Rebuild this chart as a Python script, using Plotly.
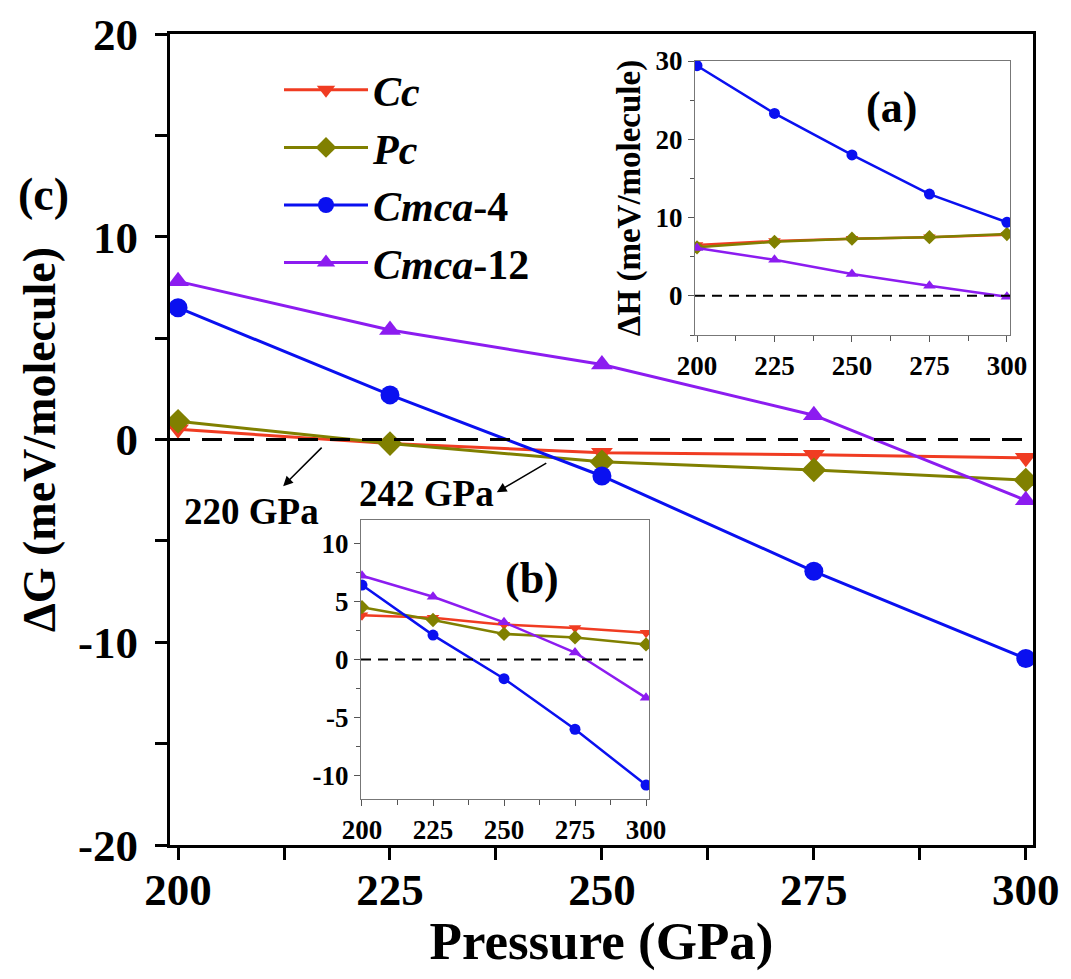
import plotly.graph_objects as go

W, H = 1071, 979
OFF = 8  # page body margin
PW, PH = W - 2 * OFF, H - 2 * OFF
FONT = "Liberation Serif"

pressure = [200, 225, 250, 275, 300]

# Main panel (c): Delta G (meV/molecule)
g_cc = [0.5, -0.2, -0.65, -0.75, -0.9]
g_pc = [0.9, -0.2, -1.1, -1.5, -2.0]
g_cmca4 = [6.5, 2.2, -1.8, -6.5, -10.8]
g_cmca12 = [7.8, 5.4, 3.7, 1.2, -3.0]

# Inset (a): Delta H (meV/molecule)
h_cc = [6.5, 7.0, 7.3, 7.5, 7.8]
h_pc = [6.2, 6.9, 7.3, 7.5, 7.9]
h_cmca4 = [29.4, 23.3, 18.0, 13.0, 9.4]
h_cmca12 = [6.1, 4.6, 2.8, 1.3, -0.1]

# Inset (b)
b_cc = [3.8, 3.6, 3.0, 2.7, 2.3]
b_pc = [4.5, 3.4, 2.2, 1.9, 1.3]
b_cmca4 = [6.4, 2.1, -1.65, -6.0, -10.8]
b_cmca12 = [7.2, 5.4, 3.2, 0.6, -3.3]

names = ["<i>Cc</i>", "<i>Pc</i>", "<i>Cmca</i>-4", "<i>Cmca</i>-12"]
colors = ["#f03c22", "#808000", "#0a10f0", "#8c1cf0"]
symbols = ["triangle-down", "diamond", "circle", "triangle-up"]

tick_x = [200, 225, 250, 275, 300]
main_yvals = [-20, -10, 0, 10, 20]
main_ytext = ["-20", "-10", "0", "10", "20"]
a_yvals = [0, 10, 20, 30]
a_ytext = ["0", "10", "20", "30"]
b_yvals = [-10, -5, 0, 5, 10]
b_ytext = ["-10", "-5", "0", "5", "10"]


def fx(px):
    return (px - OFF) / PW


def fy(py):
    return 1 - (py - OFF) / PH


fig = go.Figure()

main_series = [g_cc, g_pc, g_cmca4, g_cmca12]
a_series = [h_cc, h_pc, h_cmca4, h_cmca12]
b_series = [b_cc, b_pc, b_cmca4, b_cmca12]

for i in range(4):
    fig.add_trace(go.Scatter(
        x=pressure, y=main_series[i], name=names[i], mode="lines+markers",
        line=dict(color=colors[i], width=3),
        marker=dict(symbol=symbols[i], size=19, color=colors[i]),
        xaxis="x", yaxis="y", showlegend=True))
for i in range(4):
    fig.add_trace(go.Scatter(
        x=pressure, y=a_series[i], name=names[i], mode="lines+markers",
        line=dict(color=colors[i], width=2.5),
        marker=dict(symbol=symbols[i], size=11, color=colors[i]),
        xaxis="x2", yaxis="y2", showlegend=False))
for i in range(4):
    fig.add_trace(go.Scatter(
        x=pressure, y=b_series[i], name=names[i], mode="lines+markers",
        line=dict(color=colors[i], width=2.5),
        marker=dict(symbol=symbols[i], size=11, color=colors[i]),
        xaxis="x3", yaxis="y3", showlegend=False))

big_tick = dict(family=FONT, size=45, color="black", weight="bold")
small_tick = dict(family=FONT, size=27, color="black", weight="bold")

main_ax = dict(showline=True, linewidth=3, linecolor="black", mirror=True,
               ticks="outside", ticklen=12, tickwidth=2.5, tickcolor="black",
               showgrid=False, zeroline=False, tickfont=big_tick,
               automargin=False)
inset_ax = dict(showline=True, linewidth=1.2, linecolor="#777777", mirror=True,
                ticks="outside", ticklen=6, tickwidth=1.2, tickcolor="#555555",
                showgrid=False, zeroline=False, tickfont=small_tick,
                automargin=False)

ann_c = dict(xref="paper", yref="paper", showarrow=False,
             xanchor="center", yanchor="middle")

fig.update_layout(
    width=PW, height=PH, autosize=False,
    margin=dict(l=0, r=0, t=0, b=0, pad=0),
    paper_bgcolor="white", plot_bgcolor="white",
    font=dict(family=FONT, color="black"),
    xaxis=dict(**main_ax, domain=[fx(170), fx(1033)], range=[199.05, 300.85],
               anchor="y", tickvals=tick_x, ticklabelstandoff=-9,
               minor=dict(dtick=12.5, tick0=200, ticks="outside", ticklen=12,
                          tickwidth=2.5, tickcolor="black"),
               title=dict(text="Pressure (GPa)", standoff=4,
                          font=dict(family=FONT, size=53, weight="bold"))),
    yaxis=dict(**main_ax, domain=[fy(845), fy(34)], range=[-20, 20],
               anchor="x", tickvals=main_yvals, ticktext=main_ytext,
               ticklabelstandoff=8,
               minor=dict(dtick=5, tick0=0, ticks="outside", ticklen=12,
                          tickwidth=2.5, tickcolor="black"),
               title=dict(text="ΔG (meV/molecule)", standoff=8,
                          font=dict(family=FONT, size=46, weight="bold"))),
    xaxis2=dict(**inset_ax, domain=[fx(695), fx(1010)], range=[199.35, 301.0],
                anchor="y2", tickvals=tick_x,
                minor=dict(dtick=12.5, tick0=200, ticks="outside", ticklen=5,
                           tickcolor="#555555")),
    yaxis2=dict(**inset_ax, domain=[fy(335), fy(61)], range=[-5, 30],
                anchor="x2", tickvals=a_yvals, ticktext=a_ytext,
                minor=dict(dtick=5, tick0=0, ticks="outside", ticklen=4,
                           tickcolor="#555555"),
                title=dict(text="ΔH (meV/molecule)", standoff=4,
                           font=dict(family=FONT, size=33, weight="bold"))),
    xaxis3=dict(**inset_ax, domain=[fx(361), fx(649)], range=[199.65, 301.05],
                anchor="y3", tickvals=tick_x,
                minor=dict(dtick=12.5, tick0=200, ticks="outside", ticklen=5,
                           tickcolor="#555555")),
    yaxis3=dict(**inset_ax, domain=[fy(799), fy(520)], range=[-12, 12],
                anchor="x3", tickvals=b_yvals, ticktext=b_ytext,
                minor=dict(dtick=2.5, tick0=0, ticks="outside", ticklen=4,
                           tickcolor="#555555")),
    legend=dict(x=fx(279), y=fy(56), xanchor="left", yanchor="top",
                bgcolor="rgba(0,0,0,0)", borderwidth=0, itemwidth=84,
                font=dict(family=FONT, size=42, weight="bold", color="black"),
                tracegroupgap=0),
    shapes=[
        dict(type="line", xref="x domain", yref="y", x0=0, x1=1, y0=0, y1=0,
             line=dict(color="black", width=3, dash="20px,12px")),
        dict(type="line", xref="x2 domain", yref="y2", x0=0, x1=1, y0=0, y1=0,
             line=dict(color="black", width=2, dash="10px,7px")),
        dict(type="line", xref="x3 domain", yref="y3", x0=0, x1=1, y0=0, y1=0,
             line=dict(color="black", width=2, dash="10px,7px")),
    ],
    annotations=[
        dict(**ann_c, text="(c)", x=fx(43), y=fy(195),
             font=dict(family=FONT, size=46, weight="bold")),
        dict(**ann_c, text="(a)", x=fx(891), y=fy(107),
             font=dict(family=FONT, size=44, weight="bold")),
        dict(**ann_c, text="(b)", x=fx(532), y=fy(578),
             font=dict(family=FONT, size=44, weight="bold")),
        dict(**ann_c, text="220 GPa", x=fx(251), y=fy(512),
             font=dict(family=FONT, size=37, weight="bold")),
        dict(**ann_c, text="242 GPa", x=fx(426), y=fy(493),
             font=dict(family=FONT, size=37, weight="bold")),
        dict(text="", xref="x", yref="y", x=212.4, y=-2.3, ax=40, ay=-40,
             showarrow=True, arrowhead=2, arrowsize=1.3, arrowwidth=1.5,
             arrowcolor="black"),
        dict(text="", xref="x", yref="y", x=237.6, y=-2.6, ax=51, ay=-30,
             showarrow=True, arrowhead=2, arrowsize=1.3, arrowwidth=1.5,
             arrowcolor="black"),
    ],
)

fig.write_html("out.html")
